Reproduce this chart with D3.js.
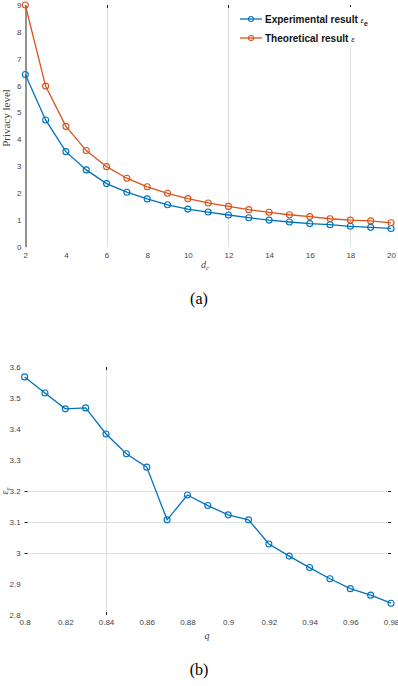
<!DOCTYPE html>
<html>
<head>
<meta charset="utf-8">
<script src="https://cdn.jsdelivr.net/npm/d3@7"></script>
<style>
  body { margin: 0; background: #fff; }
  svg { display: block; }
  .tick text { font-family: "Liberation Sans", Arial, sans-serif; font-size: 8px; fill: #444; }
</style>
</head>
<body>
<div id="chart"></div>
<script>
// chart (a): privacy level vs d_c
const dcValues = [2, 3, 4, 5, 6, 7, 8, 9, 10, 11, 12, 13, 14, 15, 16, 17, 18, 19, 20];
const experimental = [6.41, 4.72, 3.54, 2.86, 2.35, 2.03, 1.78, 1.56, 1.40, 1.29, 1.18, 1.08, 0.99, 0.92, 0.86, 0.82, 0.76, 0.72, 0.68];
const theoretical = [9.0, 5.98, 4.48, 3.58, 2.98, 2.55, 2.23, 1.99, 1.79, 1.63, 1.50, 1.38, 1.28, 1.19, 1.12, 1.04, 0.99, 0.96, 0.89];
const topXTicks = [2, 4, 6, 8, 10, 12, 14, 16, 18, 20];
const topYTicks = [0, 1, 2, 3, 4, 5, 6, 7, 8, 9];
const topXGrid = [6, 12, 18];

// chart (b): epsilon_e vs q
const qValues = [0.80, 0.81, 0.82, 0.83, 0.84, 0.85, 0.86, 0.87, 0.88, 0.89, 0.90, 0.91, 0.92, 0.93, 0.94, 0.95, 0.96, 0.97, 0.98];
const epsE = [3.568, 3.516, 3.465, 3.468, 3.384, 3.320, 3.277, 3.107, 3.187, 3.153, 3.123, 3.107, 3.029, 2.990, 2.953, 2.917, 2.885, 2.864, 2.838];
const botXTicks = [0.80, 0.82, 0.84, 0.86, 0.88, 0.90, 0.92, 0.94, 0.96, 0.98];
const botYTicks = [2.8, 2.9, 3.0, 3.1, 3.2, 3.3, 3.4, 3.5, 3.6];
const botXGrid = [0.84];
const botYGrid = [3.0, 3.1, 3.2];

const blue = "#0072BD", orange = "#D95319", grid = "#dedede";
const W = 398, H = 686;

const svg = d3.select("#chart").append("svg")
  .attr("width", W).attr("height", H);

function fmt(d) { return String(+d.toFixed(2)); }
// snap to half pixel so 1px lines stay crisp
const px = v => Math.round(v) + 0.5;

function series(g, x, y, xs, ys, color) {
  const pts = xs.map((v, i) => [v, ys[i]]);
  g.append("path")
    .datum(pts)
    .attr("fill", "none")
    .attr("stroke", color)
    .attr("stroke-width", 1.3)
    .attr("d", d3.line().x(d => x(d[0])).y(d => y(d[1])));
  g.selectAll(null)
    .data(pts)
    .join("circle")
    .attr("cx", d => x(d[0]))
    .attr("cy", d => y(d[1]))
    .attr("r", 3)
    .attr("fill", "none")
    .attr("stroke", color)
    .attr("stroke-width", 1.1);
}

// ---------- chart (a) ----------
const xa = d3.scaleLinear().domain([2, 20]).range([25.3, 391]);
const ya = d3.scaleLinear().domain([0, 9]).range([246.7, 5]);
const ga = svg.append("g");

// vertical grid
ga.selectAll(".vg")
  .data(topXGrid)
  .join("line")
  .attr("x1", d => px(xa(d))).attr("x2", d => px(xa(d)))
  .attr("y1", ya(9)).attr("y2", ya(0))
  .attr("stroke", grid).attr("stroke-width", 1);
ga.selectAll(".tt")
  .data(topXGrid)
  .join("line")
  .attr("x1", d => px(xa(d))).attr("x2", d => px(xa(d)))
  .attr("y1", ya(9)).attr("y2", ya(9) + 3)
  .attr("stroke", "#222");

// y axis (with line)
const yAxisA = ga.append("g")
  .attr("transform", `translate(${px(xa(2))},0)`)
  .call(d3.axisLeft(ya).tickValues(topYTicks).tickSize(0).tickPadding(4).tickFormat(d3.format("d")));
yAxisA.select(".domain").attr("stroke", "#222").attr("stroke-width", 1);

// x axis (labels only)
const xAxisA = ga.append("g")
  .attr("transform", `translate(0,${ya(0)})`)
  .call(d3.axisBottom(xa).tickValues(topXTicks).tickSize(0).tickPadding(6).tickFormat(d3.format("d")));
xAxisA.select(".domain").remove();

series(ga, xa, ya, dcValues, experimental, blue);
series(ga, xa, ya, dcValues, theoretical, orange);

// legend
const lg = ga.append("g");
lg.append("rect").attr("x", 236).attr("y", 7).attr("width", 160).attr("height", 41).attr("fill", "#fff");
const legendItems = [
  { label: "Experimental result ", sym: "ε", sub: "e", color: blue, y: 19 },
  { label: "Theoretical result ", sym: "ε", sub: null, color: orange, y: 38 }
];
legendItems.forEach(it => {
  lg.append("line").attr("x1", 240).attr("x2", 262).attr("y1", it.y).attr("y2", it.y)
    .attr("stroke", it.color).attr("stroke-width", 1.3);
  lg.append("circle").attr("cx", 251).attr("cy", it.y).attr("r", 2.5)
    .attr("fill", "none").attr("stroke", it.color).attr("stroke-width", 1.1);
  const t = lg.append("text").attr("x", 265).attr("y", it.y + 3.5)
    .attr("font-family", "Liberation Sans, Arial, sans-serif")
    .attr("font-size", 10).attr("font-weight", "bold").attr("fill", "#111");
  t.append("tspan").text(it.label);
  t.append("tspan").text(it.sym).attr("font-weight", "normal").attr("font-style", "italic").attr("font-size", 8);
  if (it.sub) t.append("tspan").text(it.sub).attr("dy", 3).attr("font-size", 7);
});

// axis labels
ga.append("text")
  .attr("transform", `translate(10,118) rotate(-90)`)
  .attr("text-anchor", "middle")
  .attr("font-family", "Liberation Serif, serif")
  .attr("font-size", 11).attr("fill", "#444")
  .text("Privacy level");
const xla = ga.append("text")
  .attr("x", 205).attr("y", 268)
  .attr("text-anchor", "middle")
  .attr("font-family", "Liberation Serif, serif")
  .attr("font-size", 10).attr("font-style", "italic").attr("fill", "#444");
xla.append("tspan").text("d");
xla.append("tspan").text("c").attr("dy", 2).attr("font-size", 7);

svg.append("text")
  .attr("x", 199).attr("y", 304)
  .attr("text-anchor", "middle")
  .attr("font-family", "Liberation Serif, 'Times New Roman', serif")
  .attr("font-size", 16).attr("fill", "#000")
  .text("(a)");

// ---------- chart (b) ----------
const xb = d3.scaleLinear().domain([0.8, 0.98]).range([24.6, 391]);
const yb = d3.scaleLinear().domain([2.8, 3.6]).range([615, 367]);
const gb = svg.append("g");

gb.selectAll(".hg")
  .data(botYGrid)
  .join("line")
  .attr("x1", xb(0.8)).attr("x2", xb(0.98))
  .attr("y1", d => px(yb(d))).attr("y2", d => px(yb(d)))
  .attr("stroke", grid);
gb.selectAll(".vg")
  .data(botXGrid)
  .join("line")
  .attr("x1", d => px(xb(d))).attr("x2", d => px(xb(d)))
  .attr("y1", yb(3.6)).attr("y2", yb(2.8))
  .attr("stroke", grid);

// small black ticks at grid ends
botYGrid.forEach(v => {
  gb.append("line").attr("x1", xb(0.8)).attr("x2", xb(0.8) + 3).attr("y1", px(yb(v))).attr("y2", px(yb(v))).attr("stroke", "#222");
  gb.append("line").attr("x1", xb(0.98) - 3).attr("x2", xb(0.98)).attr("y1", px(yb(v))).attr("y2", px(yb(v))).attr("stroke", "#222");
});
botXGrid.forEach(v => {
  gb.append("line").attr("x1", px(xb(v))).attr("x2", px(xb(v))).attr("y1", yb(3.6)).attr("y2", yb(3.6) + 3).attr("stroke", "#222");
  gb.append("line").attr("x1", px(xb(v))).attr("x2", px(xb(v))).attr("y1", yb(2.8) - 3).attr("y2", yb(2.8)).attr("stroke", "#222");
});

const yAxisB = gb.append("g")
  .attr("transform", `translate(${xb(0.8)},0)`)
  .call(d3.axisLeft(yb).tickValues(botYTicks).tickSize(0).tickPadding(4).tickFormat(fmt));
yAxisB.select(".domain").remove();

const xAxisB = gb.append("g")
  .attr("transform", `translate(0,${yb(2.8)})`)
  .call(d3.axisBottom(xb).tickValues(botXTicks).tickSize(0).tickPadding(4).tickFormat(fmt));
xAxisB.select(".domain").remove();

series(gb, xb, yb, qValues, epsE, blue);

const ylb = gb.append("text")
  .attr("transform", `translate(8,491) rotate(-90)`)
  .attr("text-anchor", "middle")
  .attr("font-family", "Liberation Serif, serif")
  .attr("font-size", 10).attr("font-style", "italic").attr("fill", "#444");
ylb.append("tspan").text("ε");
ylb.append("tspan").text("e").attr("dy", 2).attr("font-size", 7);

gb.append("text")
  .attr("x", 207).attr("y", 639)
  .attr("text-anchor", "middle")
  .attr("font-family", "Liberation Serif, serif")
  .attr("font-size", 10).attr("font-style", "italic").attr("fill", "#444")
  .text("q");

svg.append("text")
  .attr("x", 199).attr("y", 675)
  .attr("text-anchor", "middle")
  .attr("font-family", "Liberation Serif, 'Times New Roman', serif")
  .attr("font-size", 16).attr("fill", "#000")
  .text("(b)");
</script>
</body>
</html>
